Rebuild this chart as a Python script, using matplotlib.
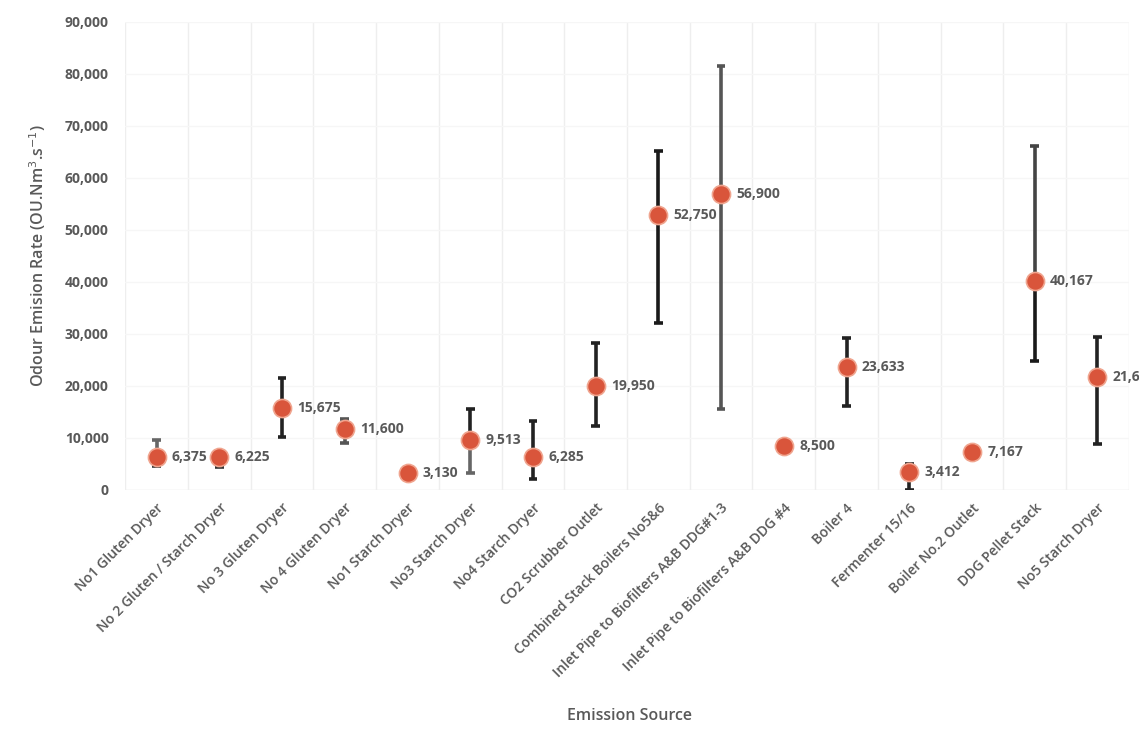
import matplotlib.pyplot as plt
import matplotlib.transforms as mtransforms
import numpy as np
from matplotlib.ticker import FuncFormatter

# 数据
sources = ['No1 Gluten Dryer', 'No 2 Gluten / Starch Dryer', 'No 3 Gluten Dryer', 'No 4 Gluten Dryer',
           'No1 Starch Dryer', 'No3 Starch Dryer', 'No4 Starch Dryer', 'CO2 Scrubber Outlet',
           'Combined Stack Boilers No5&6', 'Inlet Pipe to Biofilters A&B DDG#1-3',
           'Inlet Pipe to Biofilters A&B DDG #4', 'Boiler 4', 'Fermenter 15/16', 'Boiler No.2 Outlet',
           'DDG Pellet Stack', 'No5 Starch Dryer']
mean_oer = [6375, 6225, 15675, 11600, 3130, 9513, 6285, 19950, 52750, 56900, 8500, 23633, 3412, 7167, 40167, 21627]
upper_oer = [9600, 7400, 21500, 13700, 3130, 15500, 13300, 28200, 65200, 81400, 8500, 29200, 5000, 7167, 66200, 29400]
lower_oer = [4500, 4300, 10200, 9000, 3130, 3300, 2100, 12200, 32100, 15500, 8500, 16200, 0, 7167, 24700, 8800]

# 误差线颜色（上半 / 下半）
up_colors = ['#666666', '#333333', '#222222', '#555555', '#222222', '#222222', '#222222', '#222222',
             '#1a1a1a', '#555555', '#222222', '#222222', '#222222', '#222222', '#444444', '#222222']
low_colors = ['#333333', '#333333', '#222222', '#555555', '#222222', '#666666', '#222222', '#222222',
              '#1a1a1a', '#555555', '#222222', '#222222', '#222222', '#222222', '#1a1a1a', '#222222']

plt.rcParams['font.family'] = ['Open Sans', 'DejaVu Sans']

fig = plt.figure(figsize=(11.39, 7.5), dpi=100)
ax = fig.add_axes([0.110, 0.347, 0.881, 0.624])

x = np.arange(len(sources))
mean_arr = np.array(mean_oer)
up_arr = np.array(upper_oer)
low_arr = np.array(lower_oer)

# 误差线
has_err = (up_arr != mean_arr) | (low_arr != mean_arr)
upc = [c for c, h in zip(up_colors, has_err) if h]
lowc = [c for c, h in zip(low_colors, has_err) if h]
ax.vlines(x[has_err], mean_arr[has_err], up_arr[has_err], colors=upc, lw=2.6, zorder=3)
ax.vlines(x[has_err], low_arr[has_err], mean_arr[has_err], colors=lowc, lw=2.6, zorder=3)
ax.hlines(up_arr[has_err], x[has_err] - 0.07, x[has_err] + 0.07, colors=upc, lw=2.6, zorder=3)
ax.hlines(low_arr[has_err], x[has_err] - 0.07, x[has_err] + 0.07, colors=lowc, lw=2.6, zorder=3)

# 点
ax.scatter(x, mean_arr, s=170, color='#d9553b', edgecolor='#f0a58f', linewidth=1.2, zorder=4)

for xi, v in zip(x, mean_oer):
    ax.annotate(f'{v:,}', (xi, v), xytext=(11, 0), textcoords='offset points',
                va='center', ha='left', fontsize=10, fontweight='bold', color='#595959',
                annotation_clip=False)

ax.set_xlim(-0.5, len(sources) - 0.5)
ax.set_ylim(0, 90000)
ax.set_yticks(np.arange(0, 90001, 10000))
ax.yaxis.set_major_formatter(FuncFormatter(lambda v, p: f'{int(v):,}'))
ax.set_xticks(x)
ax.set_xticklabels(sources, rotation=45, ha='right', rotation_mode='anchor',
                   fontsize=10, fontweight='semibold', color='#595959')
offset = mtransforms.ScaledTranslation(10 / 100, 0, fig.dpi_scale_trans)
for lab in ax.get_xticklabels():
    lab.set_transform(lab.get_transform() + offset)
ax.tick_params(axis='y', labelsize=10, labelcolor='#595959', length=0, pad=12)
ax.tick_params(axis='x', length=0, pad=8)
for lab in ax.get_yticklabels():
    lab.set_fontweight('bold')

# 网格
ax.set_xticks(np.arange(-0.5, len(sources), 1), minor=True)
ax.grid(True, which='minor', axis='x', color='#eeeeee', lw=1)
ax.grid(True, which='major', axis='y', color='#f6f6f6', lw=1)
ax.tick_params(which='minor', length=0)
for s in ax.spines.values():
    s.set_visible(False)
ax.axhline(0, color='#e6e6e6', lw=1, zorder=1)

ax.set_ylabel('Odour Emision Rate (OU.Nm$^3$.s$^{-1}$)', fontsize=11.5, color='#595959',
              fontweight='semibold', labelpad=12)
fig.text(0.553, 0.04, 'Emission Source', fontsize=11.5, color='#595959', fontweight='semibold', ha='center')

fig.savefig('out.png', dpi=100)
